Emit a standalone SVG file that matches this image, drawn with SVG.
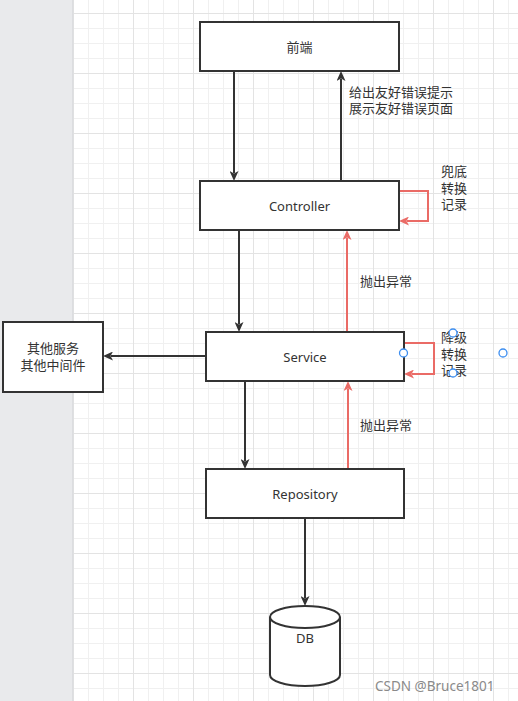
<svg xmlns="http://www.w3.org/2000/svg" width="518" height="701" viewBox="0 0 518 701">
<defs>
<pattern id="grid" patternUnits="userSpaceOnUse" x="73" y="13" width="60" height="60">
<path d="M15.5,0V60M30.5,0V60M45.5,0V60M0,15.5H60M0,30.5H60M0,45.5H60" stroke="#f0f0f0" stroke-width="1" fill="none"/>
<path d="M0.5,0V60M0,0.5H60" stroke="#e3e3e3" stroke-width="1" fill="none"/>
</pattern>
<marker id="ad" viewBox="0 0 10 9" refX="2" refY="4.5" markerWidth="10" markerHeight="9" markerUnits="userSpaceOnUse" orient="auto">
<path d="M0,0L10,4.5L0,9L2.5,4.5Z" fill="#333333"/>
</marker>
<marker id="ar" viewBox="0 0 10 9" refX="2" refY="4.5" markerWidth="10" markerHeight="9" markerUnits="userSpaceOnUse" orient="auto">
<path d="M0,0L10,4.5L0,9L2.5,4.5Z" fill="#ea6b66"/>
</marker>
</defs>
<style>
text{font-family:"Noto Sans","Noto Sans CJK SC",sans-serif;font-size:13px;fill:#333333}
.box{fill:#ffffff;stroke:#333333;stroke-width:2}
.c{text-anchor:middle;dominant-baseline:central}
.l{dominant-baseline:central}
.dk{stroke:#333333;stroke-width:2;fill:none;marker-end:url(#ad)}
.rd{stroke:#ea6b66;stroke-width:2;fill:none;marker-end:url(#ar)}
.h{fill:#ffffff;stroke:#3d8ef0;stroke-width:1.3}
</style>
<rect x="0" y="0" width="518" height="701" fill="#ffffff"/>
<rect x="0" y="0" width="73" height="701" fill="#e9eaec"/>
<rect x="73" y="0" width="445" height="701" fill="url(#grid)"/>
<rect x="72" y="0" width="1.5" height="701" fill="#dcdde0"/>

<g id="connectors">
<path class="dk" d="M234,71V173"/>
<path class="dk" d="M341,181V79"/>
<path class="rd" d="M399,191H428V221H407"/>
<path class="dk" d="M239,230V324"/>
<path class="rd" d="M347,332V238"/>
<path class="rd" d="M404,343H434V374H412"/>
<path class="dk" d="M206,356H111"/>
<path class="dk" d="M245,381V461"/>
<path class="rd" d="M348,469V389"/>
<path class="dk" d="M305,518V598"/>
<text class="l" x="349" y="91.5">给出友好错误提示<tspan x="349" dy="16.5">展示友好错误页面</tspan></text>
<text class="l" x="441" y="171">兜底<tspan x="441" dy="16.5">转换</tspan><tspan x="441" dy="16.5">记录</tspan></text>
<text class="l" x="360" y="281">抛出异常</text>
<text class="l" x="441" y="337">降级<tspan x="441" dy="16.5">转换</tspan><tspan x="441" dy="16.5">记录</tspan></text>
<text class="l" x="360" y="425">抛出异常</text>
</g>

<g id="frontend">
<rect class="box" x="200" y="22" width="199" height="49"/>
<text class="c" x="299.5" y="46.5">前端</text>
</g>
<g id="controller">
<rect class="box" x="200" y="181" width="199" height="49"/>
<text class="c" x="299.5" y="206">Controller</text>
</g>
<g id="service">
<rect class="box" x="206" y="332" width="198" height="49"/>
<text class="c" x="305" y="357">Service</text>
</g>
<g id="repository">
<rect class="box" x="206" y="469" width="198" height="49"/>
<text class="c" x="305" y="494">Repository</text>
</g>
<g id="other">
<rect class="box" x="3" y="322" width="100" height="70"/>
<text class="c" x="53" y="348">其他服务<tspan x="53" dy="16.5">其他中间件</tspan></text>
</g>
<g id="db">
<path d="M270,617V675A35,11 0 0 0 340,675V617A35,11 0 0 0 270,617Z" fill="#ffffff" stroke="#333333" stroke-width="2"/>
<path d="M270,617A35,11 0 0 0 340,617" fill="none" stroke="#333333" stroke-width="2"/>
<text class="c" x="305" y="638">DB</text>
</g>
<g id="handles">
<circle class="h" cx="453" cy="333" r="4"/>
<circle class="h" cx="403.5" cy="353" r="4"/>
<circle class="h" cx="453" cy="373" r="4"/>
<circle class="h" cx="503" cy="353" r="4"/>
</g>
<text class="l" x="375" y="686" style="fill:#8a8a8a;font-size:13.5px">CSDN @Bruce1801</text>
</svg>
